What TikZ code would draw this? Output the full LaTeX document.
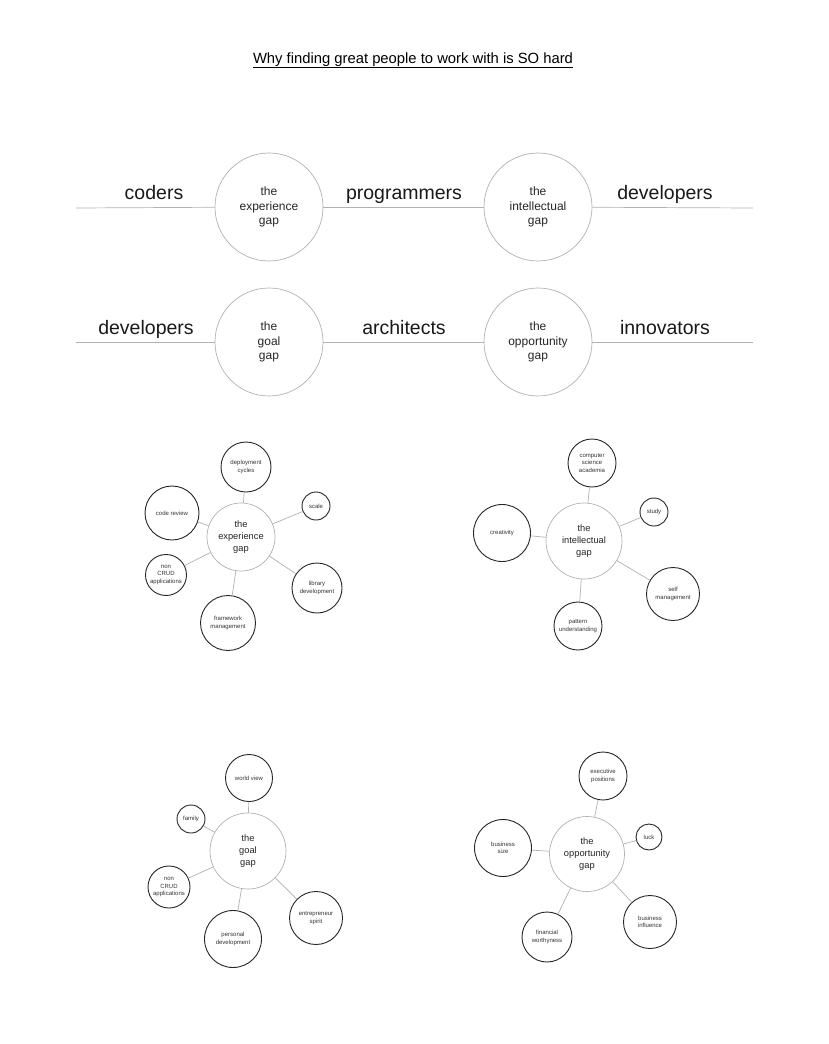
\documentclass[tikz,border=0pt]{standalone}
\usepackage{fontspec}
\setmainfont{Liberation Sans}
\begin{document}
\begin{tikzpicture}[x=1pt,y=-1pt,
  gapbig/.style={circle,draw=black!30,line width=0.7pt,minimum size=108pt,inner sep=0pt,align=center,font=\fontsize{12}{14.4}\selectfont,text=black!85},
  hubc/.style={circle,draw=black!30,line width=0.7pt,minimum size=#1,inner sep=0pt,align=center,font=\fontsize{9.3}{11.6}\selectfont,text=black!85},
  satc/.style={circle,draw=black!85,line width=0.9pt,minimum size=#1,inner sep=0pt,align=center,font=\fontsize{6}{7.4}\selectfont,text=black!80},
  linkc/.style={draw=black!30,line width=0.7pt},
  lbl/.style={font=\fontsize{19.5}{22}\selectfont,text=black!90,anchor=base}]
\useasboundingbox (0,0) rectangle (828,1044);
\fill[white] (0,0) rectangle (828,1044);
% title
\node[font=\fontsize{14.8}{17}\selectfont,anchor=base] (title) at (413,63) {\underline{Why finding great people to work with is SO hard}};
% row 1
\coordinate (r1l) at (76,208);
\coordinate (r1r) at (753,208);
\node[gapbig] (expbig) at (269,207) {the\\experience\\gap};
\node[gapbig] (intbig) at (538,207) {the\\intellectual\\gap};
\draw[linkc] (r1l) -- (expbig);
\draw[linkc] (expbig) -- (intbig);
\draw[linkc] (intbig) -- (r1r);
\node[lbl] (coders) at (154,199) {coders};
\node[lbl] (programmers) at (404,199) {programmers};
\node[lbl] (developers1) at (665,199) {developers};
% row 2
\coordinate (r2l) at (76,342);
\coordinate (r2r) at (753,342);
\node[gapbig] (goalbig) at (269,342) {the\\goal\\gap};
\node[gapbig] (oppbig) at (538,342) {the\\opportunity\\gap};
\draw[linkc] (r2l) -- (goalbig);
\draw[linkc] (goalbig) -- (oppbig);
\draw[linkc] (oppbig) -- (r2r);
\node[lbl] (developers2) at (146,334) {developers};
\node[lbl] (architects) at (404,334) {architects};
\node[lbl] (innovators) at (665,334) {innovators};
% cluster: experience
\node[hubc=68pt] (exphub) at (241,537) {the\\experience\\gap};
\node[satc=50pt] (e1) at (246,467) {deployment\\cycles};
\node[satc=28pt] (e2) at (316,506) {scale};
\node[satc=54pt] (e3) at (172,513) {code review};
\node[satc=41pt] (e4) at (166,575) {non\\CRUD\\applications};
\node[satc=50pt] (e5) at (317,588) {library\\development};
\node[satc=55pt] (e6) at (228,623) {framework\\management};
\foreach \s in {e1,e2,e3,e4,e5,e6} \draw[linkc] (exphub) -- (\s);
% cluster: intellectual
\node[hubc=76pt] (inthub) at (584,541) {the\\intellectual\\gap};
\node[satc=48pt] (i1) at (592,463) {computer\\science\\academia};
\node[satc=28pt] (i2) at (654,512) {study};
\node[satc=57pt] (i3) at (502,533) {creativity};
\node[satc=53pt] (i4) at (673,594) {self\\management};
\node[satc=48pt] (i5) at (578,626) {pattern\\understanding};
\foreach \s in {i1,i2,i3,i4,i5} \draw[linkc] (inthub) -- (\s);
% cluster: goal
\node[hubc=76pt] (goalhub) at (248,851) {the\\goal\\gap};
\node[satc=47pt] (g1) at (249,778) {world view};
\node[satc=28pt] (g2) at (191,819) {family};
\node[satc=42pt] (g3) at (169,887) {non\\CRUD\\applications};
\node[satc=57pt] (g4) at (233,939) {personal\\development};
\node[satc=53pt] (g5) at (316,918) {entrepreneur\\spirit};
\foreach \s in {g1,g2,g3,g4,g5} \draw[linkc] (goalhub) -- (\s);
% cluster: opportunity
\node[hubc=75pt] (opphub) at (587,854) {the\\opportunity\\gap};
\node[satc=48pt] (o1) at (603,776) {executive\\positions};
\node[satc=26pt] (o2) at (649,837) {luck};
\node[satc=57pt] (o3) at (503,848) {business\\size};
\node[satc=53pt] (o4) at (650,922) {business\\influence};
\node[satc=50pt] (o5) at (547,937) {financial\\worthyness};
\foreach \s in {o1,o2,o3,o4,o5} \draw[linkc] (opphub) -- (\s);
\end{tikzpicture}
\end{document}
